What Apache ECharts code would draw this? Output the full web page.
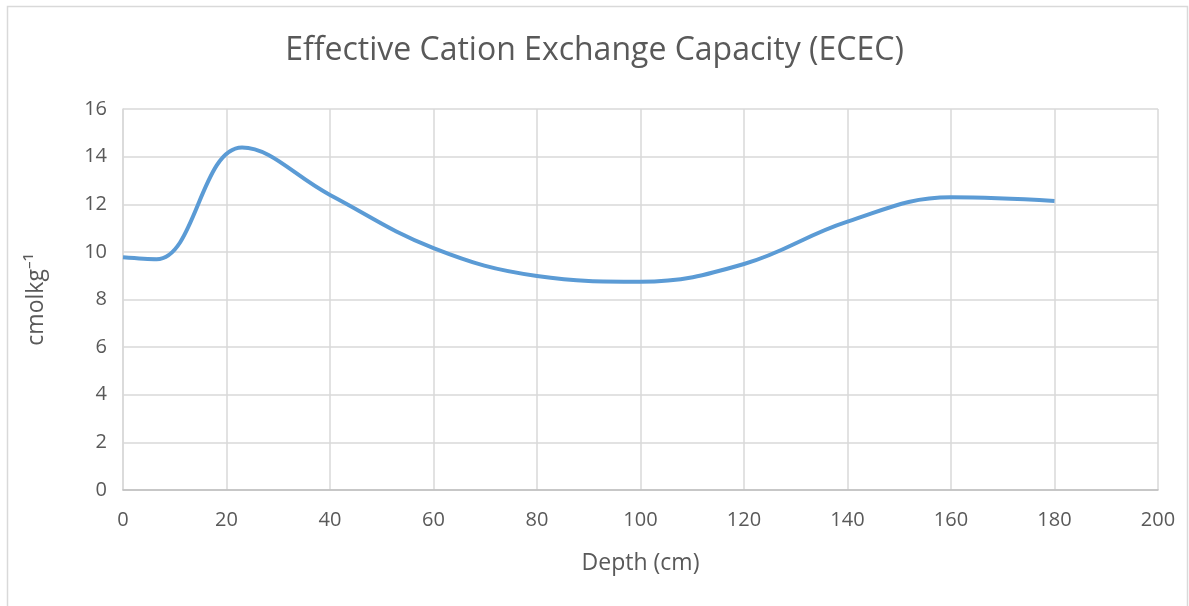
<!DOCTYPE html>
<html>
<head>
<meta charset="utf-8">
<script src="https://cdn.jsdelivr.net/npm/echarts@6/dist/echarts.min.js"></script>
<style>
html,body{margin:0;padding:0;background:#fff;}
#chart{width:1189px;height:606px;}
</style>
</head>
<body>
<div id="chart"></div>
<script>
const depth = [0, 6.5, 23, 40, 60, 80, 100, 120, 140, 160, 180];
const ecec = [9.77, 9.69, 14.38, 12.39, 10.16, 8.99, 8.75, 9.49, 11.27, 12.29, 12.14];
const xTicks = [0, 20, 40, 60, 80, 100, 120, 140, 160, 180, 200];
const yTicks = [0, 2, 4, 6, 8, 10, 12, 14, 16];

const chart = echarts.init(document.getElementById('chart'), null, {renderer: 'canvas'});
const font = '"Open Sans", "Noto Sans", sans-serif';
chart.setOption({
  animation: false,
  backgroundColor: '#ffffff',
  textStyle: {fontFamily: font},
  title: {
    text: 'Effective Cation Exchange Capacity (ECEC)',
    left: 'center',
    top: 30,
    textStyle: {fontFamily: font, fontSize: 32, fontWeight: 'normal', color: '#595959'}
  },
  graphic: [{
    type: 'rect',
    shape: {x: 7.5, y: 6.5, width: 1180, height: 640},
    style: {fill: 'none', stroke: '#d9d9d9', lineWidth: 1.5},
    silent: true
  }],
  grid: {left: 123, right: 31, top: 109, bottom: 116, containLabel: false},
  xAxis: {
    type: 'value',
    min: xTicks[0],
    max: xTicks[xTicks.length - 1],
    interval: 20,
    name: 'Depth (cm)',
    nameLocation: 'middle',
    nameGap: 62,
    nameTextStyle: {fontFamily: font, fontSize: 23, color: '#595959'},
    axisLine: {show: true, lineStyle: {color: '#bfbfbf', width: 1.5}},
    axisTick: {show: false},
    axisLabel: {fontFamily: font, fontSize: 20, color: '#595959', margin: 20},
    splitLine: {show: true, lineStyle: {color: '#d9d9d9', width: 1.5}}
  },
  yAxis: {
    type: 'value',
    min: yTicks[0],
    max: yTicks[yTicks.length - 1],
    interval: 2,
    name: 'cmolkg⁻¹',
    nameLocation: 'middle',
    nameRotate: 90,
    nameGap: 75,
    nameTextStyle: {fontFamily: font, fontSize: 23, color: '#595959'},
    axisLine: {show: true, lineStyle: {color: '#d9d9d9', width: 1.5}},
    axisTick: {show: false},
    axisLabel: {fontFamily: font, fontSize: 20, color: '#595959', margin: 16},
    splitLine: {show: true, lineStyle: {color: '#d9d9d9', width: 1.5}}
  },
  series: [{
    type: 'line',
    data: depth.map((d, i) => [d, ecec[i]]),
    smooth: 0.4,
    showSymbol: false,
    symbol: 'none',
    lineStyle: {color: '#5B9BD5', width: 4},
    itemStyle: {color: '#5B9BD5'}
  }]
});
</script>
</body>
</html>
